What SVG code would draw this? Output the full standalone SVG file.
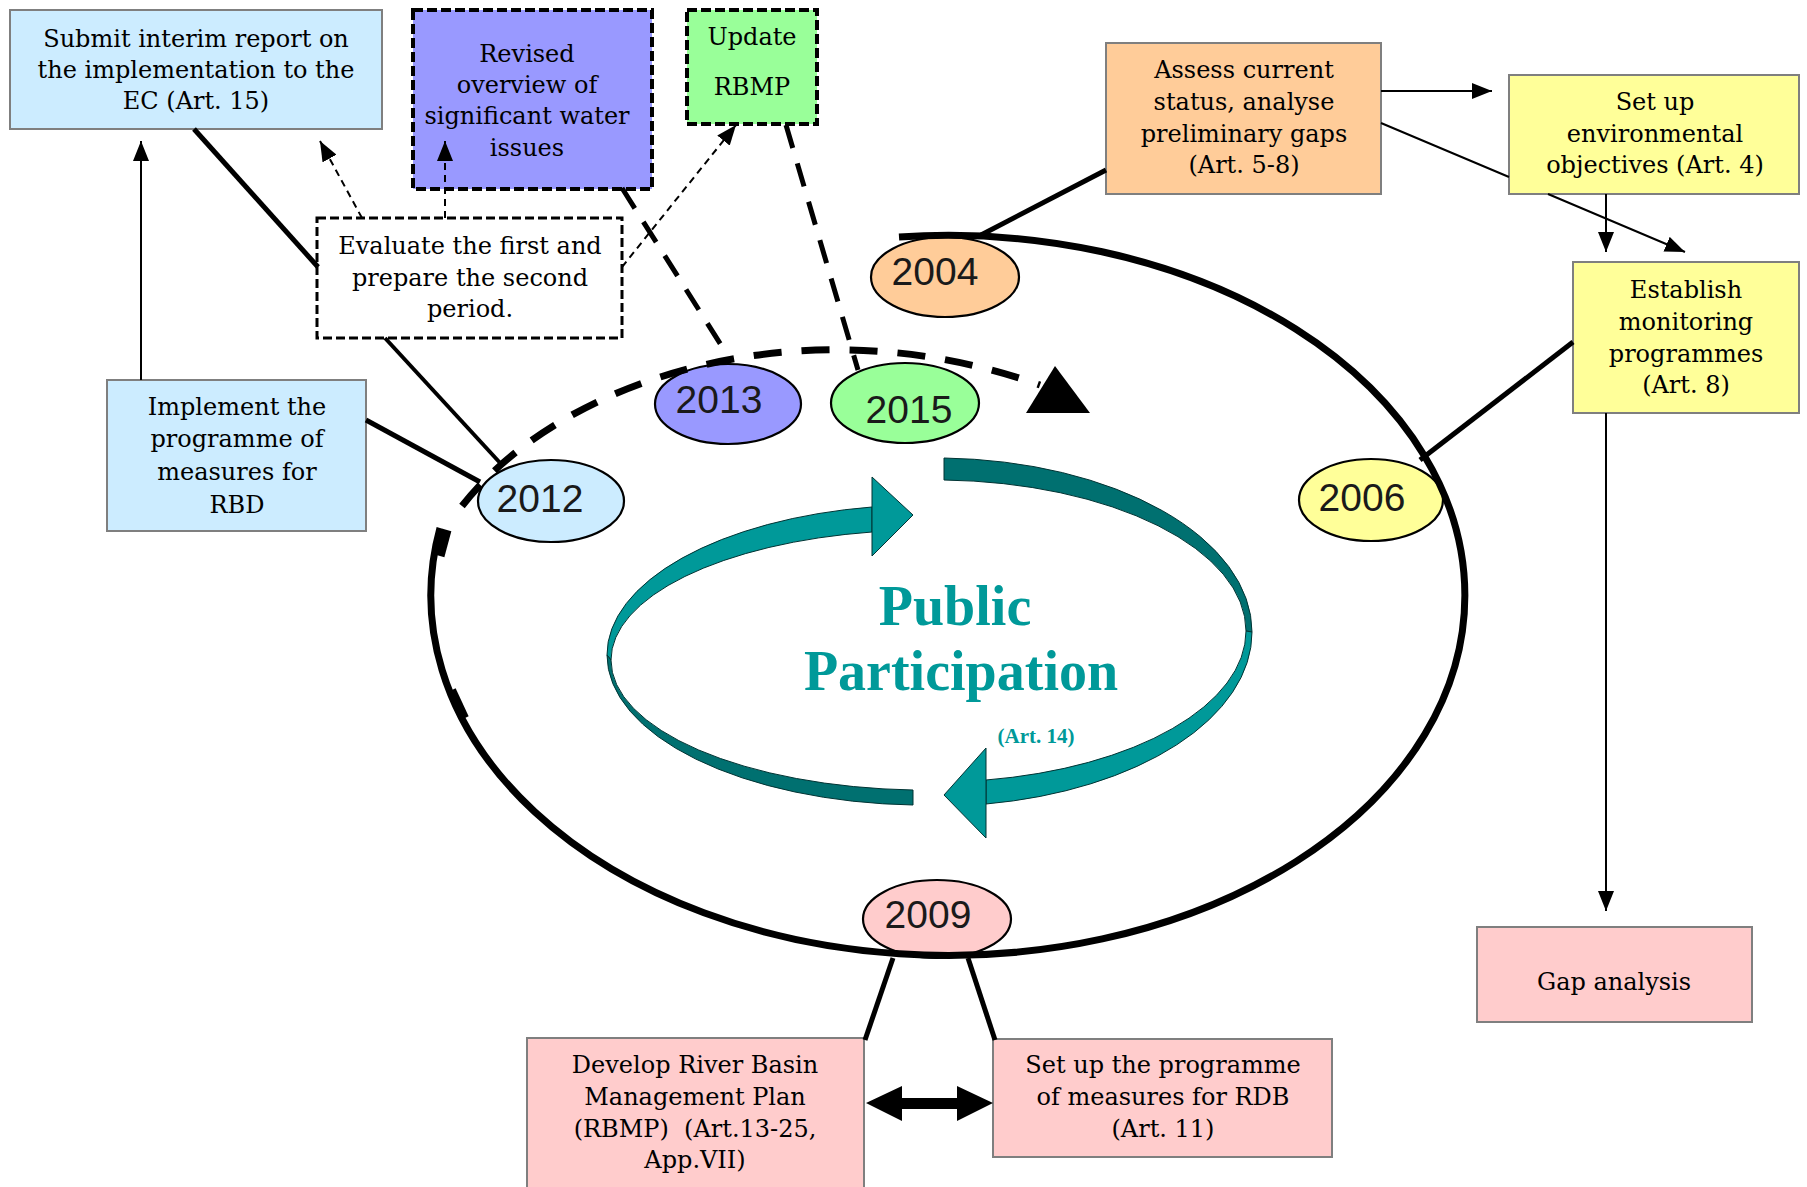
<svg xmlns="http://www.w3.org/2000/svg" width="1807" height="1187" viewBox="0 0 1807 1187">
<style>
.box{stroke:#7f7f7f;stroke-width:2}
.dbox{stroke:#000;stroke-width:4;stroke-dasharray:10 4}
.ebox{fill:#fff;stroke:#000;stroke-width:3;stroke-dasharray:9 4}
.yr{stroke:#000;stroke-width:2.2}
.t{font-family:"DejaVu Serif","Liberation Serif",serif;font-size:24px;fill:#000;text-anchor:middle}
.y{font-family:"Liberation Sans",Arial,sans-serif;font-size:39px;fill:#1a1a1a;text-anchor:middle}
.thin{stroke:#000;stroke-width:2;fill:none}
.thick{stroke:#000;stroke-width:5;fill:none}
.tdash{stroke:#000;stroke-width:2;stroke-dasharray:7 5;fill:none}
.kdash{stroke:#000;stroke-width:5;stroke-dasharray:24 16;fill:none}
.pp{font-family:"Liberation Serif",serif;font-weight:bold;fill:#009999;text-anchor:middle}
.light{fill:#009999;stroke:#003333;stroke-width:1}
.dark{fill:#007070;stroke:#003333;stroke-width:1}
</style>
<defs>
<marker id="arr" viewBox="0 0 20 16" refX="20" refY="8" markerWidth="20" markerHeight="16" markerUnits="userSpaceOnUse" orient="auto">
<path d="M0,0 L20,8 L0,16 z" fill="#000"/>
</marker>
</defs>
<rect width="1807" height="1187" fill="#fff"/>

<g id="public-participation">
<path class="light" d="M 607 655 A 318 150 0 0 1 872 507 L 872 532 A 316 130 0 0 0 611 660 Z"/>
<path class="dark" d="M 607 655 A 318 150 0 0 0 913 805 L 913 790 A 316 130 0 0 1 611 660 Z"/>
<polygon class="light" points="872,477 913,515 872,556"/>
<path class="dark" d="M 944 458 A 317 174 0 0 1 1252 632 L 1246 631 A 311 151 0 0 0 944 480 Z"/>
<path class="light" d="M 1252 632 A 317 174 0 0 1 986 804 L 986 780 A 311 151 0 0 0 1246 631 Z"/>
<polygon class="light" points="986,748 944,795 986,838"/>
<text class="pp" x="955" y="625" font-size="56">Public</text>
<text class="pp" x="961" y="690" font-size="56">Participation</text>
<text class="pp" x="1036" y="743" font-size="21">(Art. 14)</text>
</g>

<g id="n-submit"><rect x="10" y="10" width="372" height="119" fill="#CCECFF" class="box"/>
<text class="t"><tspan x="196" y="47">Submit interim report on</tspan><tspan x="196" y="78">the implementation to the</tspan><tspan x="196" y="109">EC (Art. 15)</tspan></text></g>

<g id="n-revised"><rect x="413" y="10" width="239" height="179" fill="#9999FF" class="dbox"/>
<text class="t"><tspan x="527" y="62">Revised</tspan><tspan x="527" y="93">overview of</tspan><tspan x="527" y="124">significant water</tspan><tspan x="527" y="156">issues</tspan></text></g>

<g id="n-update"><rect x="687" y="10" width="130" height="114" fill="#99FF99" class="dbox"/>
<text class="t"><tspan x="752" y="45">Update</tspan><tspan x="752" y="95">RBMP</tspan></text></g>

<g id="n-evaluate"><rect x="317" y="218" width="305" height="120" class="ebox"/>
<text class="t"><tspan x="470" y="254">Evaluate the first and</tspan><tspan x="470" y="286">prepare the second</tspan><tspan x="470" y="317">period.</tspan></text></g>

<g id="n-implement"><rect x="107" y="380" width="259" height="151" fill="#CCECFF" class="box"/>
<text class="t"><tspan x="237" y="415">Implement the</tspan><tspan x="237" y="447">programme of</tspan><tspan x="237" y="480">measures for</tspan><tspan x="237" y="513">RBD</tspan></text></g>

<g id="n-assess"><rect x="1106" y="43" width="275" height="151" fill="#FFCC99" class="box"/>
<text class="t"><tspan x="1244" y="78">Assess current</tspan><tspan x="1244" y="110">status, analyse</tspan><tspan x="1244" y="142">preliminary gaps</tspan><tspan x="1244" y="173">(Art. 5-8)</tspan></text></g>

<g id="n-objectives"><rect x="1509" y="75" width="290" height="119" fill="#FFFF99" class="box"/>
<text class="t"><tspan x="1655" y="110">Set up</tspan><tspan x="1655" y="142">environmental</tspan><tspan x="1655" y="173">objectives (Art. 4)</tspan></text></g>

<g id="n-monitoring"><rect x="1573" y="262" width="226" height="151" fill="#FFFF99" class="box"/>
<text class="t"><tspan x="1686" y="298">Establish</tspan><tspan x="1686" y="330">monitoring</tspan><tspan x="1686" y="362">programmes</tspan><tspan x="1686" y="393">(Art. 8)</tspan></text></g>

<g id="n-gap"><rect x="1477" y="927" width="275" height="95" fill="#FFCCCC" class="box"/>
<text class="t" x="1614" y="990">Gap analysis</text></g>

<g id="n-develop"><rect x="527" y="1038" width="337" height="160" fill="#FFCCCC" class="box"/>
<text class="t" style="white-space:pre"><tspan x="695" y="1073">Develop River Basin</tspan><tspan x="695" y="1105">Management Plan</tspan><tspan x="695" y="1137">(RBMP)  (Art.13-25,</tspan><tspan x="695" y="1168">App.VII)</tspan></text></g>

<g id="n-measures"><rect x="993" y="1039" width="339" height="118" fill="#FFCCCC" class="box"/>
<text class="t"><tspan x="1163" y="1073">Set up the programme</tspan><tspan x="1163" y="1105">of measures for RDB</tspan><tspan x="1163" y="1137">(Art. 11)</tspan></text></g>

<g id="connectors">
<line x1="141" y1="380" x2="141" y2="141" class="thin" marker-end="url(#arr)"/>
<line x1="194" y1="129" x2="318" y2="267" class="thick"/>
<line x1="385" y1="338" x2="502" y2="465" class="thick" style="stroke-width:4"/>
<line x1="366" y1="420" x2="480" y2="482" class="thick"/>
<line x1="362" y1="218" x2="320" y2="141" class="tdash" marker-end="url(#arr)"/>
<line x1="445" y1="218" x2="445" y2="141" class="tdash" marker-end="url(#arr)"/>
<line x1="622" y1="267" x2="736" y2="125" class="tdash" marker-end="url(#arr)"/>
<line x1="622" y1="188" x2="728" y2="356" class="kdash"/>
<line x1="786" y1="125" x2="858" y2="370" class="kdash"/>
<line x1="1106" y1="170" x2="981" y2="235" class="thick"/>
<line x1="1381" y1="91" x2="1492" y2="91" class="thin" marker-end="url(#arr)"/>
<path d="M1381 123 L1509 177 M1548 194 L1685 252" class="thin" marker-end="url(#arr)"/>
<line x1="1606" y1="194" x2="1606" y2="252" class="thin" marker-end="url(#arr)"/>
<line x1="1606" y1="413" x2="1606" y2="911" class="thin" marker-end="url(#arr)"/>
<line x1="1573" y1="342" x2="1420" y2="460" class="thick"/>
<line x1="893" y1="958" x2="865" y2="1040" class="thick"/>
<line x1="968" y1="958" x2="995" y2="1040" class="thick"/>
<polygon points="866,1103 902,1086 902,1098 957,1098 957,1086 993,1103 957,1121 957,1109 902,1109 902,1121" fill="#000"/>
</g>

<g id="y2004"><ellipse cx="945" cy="277" rx="74" ry="40" fill="#FFCC99" class="yr"/><text class="y" x="935" y="285">2004</text></g>
<g id="y2006"><ellipse cx="1371" cy="500" rx="72" ry="41" fill="#FFFF99" class="yr"/><text class="y" x="1362" y="511">2006</text></g>
<g id="y2009"><ellipse cx="937" cy="919" rx="74" ry="39" fill="#FFCCCC" class="yr"/><text class="y" x="928" y="928">2009</text></g>
<g id="y2012"><ellipse cx="551" cy="501" rx="73" ry="41" fill="#CCECFF" class="yr"/><text class="y" x="540" y="512">2012</text></g>
<g id="y2013"><ellipse cx="728" cy="404" rx="73" ry="40" fill="#9999FF" class="yr"/><text class="y" x="719" y="413">2013</text></g>
<g id="y2015"><ellipse cx="905" cy="403" rx="74" ry="40" fill="#99FF99" class="yr"/><text class="y" x="909" y="423">2015</text></g>

<g id="cycle">
<path d="M 899 237 A 517 360 0 1 1 440 528" fill="none" stroke="#000" stroke-width="7"/>
<path d="M 462 506 C 560 380 800 300 1040 385" fill="none" stroke="#000" stroke-width="7" stroke-dasharray="28 20"/>
<polygon points="1055,366 1026,413 1090,413" fill="#000"/>
<line x1="447" y1="530" x2="440" y2="556" stroke="#000" stroke-width="9"/>
<line x1="452" y1="690" x2="465" y2="718" stroke="#000" stroke-width="8"/>
</g>
</svg>
